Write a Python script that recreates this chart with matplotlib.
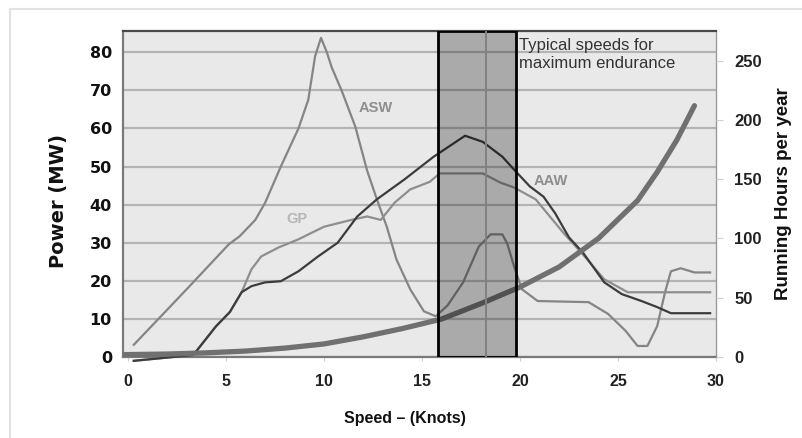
import numpy as np
import matplotlib
matplotlib.use("Agg")
import matplotlib.pyplot as plt
from matplotlib.patches import Rectangle

# speed (knots) vs power (MW) for the three mission profiles
asw_x = [0.3, 3.0, 5.15, 5.7, 6.5, 7.0, 7.8, 8.7, 9.2, 9.55, 9.85, 10.15, 10.4, 10.9, 11.6,
         12.2, 12.7, 13.2, 13.7, 14.4, 15.1, 15.7, 16.3, 17.1, 17.9, 18.5, 19.1, 19.35,
         19.7, 20.1, 20.9, 23.5, 24.5, 25.4, 26.0, 26.5, 27.0, 27.4, 27.7, 28.2, 28.9, 29.7]
asw_y = [3.2, 17.8, 29.6, 31.7, 36, 40.5, 50, 60, 67.5, 79, 83.8, 80, 76, 70, 60.5,
         49, 41.4, 34.3, 25.6, 17.8, 12, 10.7, 13.5, 19.6, 29, 32.2, 32.2, 29.8,
         23.8, 17.8, 14.7, 14.4, 11.3, 6.8, 2.9, 2.9, 8.1, 17, 22.5, 23.3, 22.2, 22.2]

gp_x = [0.3, 3.3, 3.5, 4.5, 5.2, 5.8, 6.3, 6.8, 7.7, 8.7, 10.0, 11.4, 12.2, 12.9, 13.6,
        14.4, 15.4, 15.9, 18.1, 19.0, 19.7, 20.8, 22.2, 23.3, 24.3, 25.5, 29.7]
gp_y = [-1, 0.5, 1.6, 8.1, 11.8, 17, 23, 26.4, 28.8, 30.9, 34.2, 36, 36.9, 36, 40.5,
        44, 46, 48.2, 48.2, 45.8, 44.5, 41.4, 32.7, 26.4, 20.4, 17, 17]

aaw_x = [0.3, 3.3, 3.5, 4.5, 5.2, 5.8, 6.3, 7.0, 7.8, 8.7, 9.7, 10.7, 11.7, 12.7, 14.1,
         15.6, 17.2, 18.1, 19.1, 19.7, 20.5, 21.2, 21.8, 22.5, 23.2, 24.3, 25.2, 26.2,
         27.0, 27.7, 29.7]
aaw_y = [-1, 0.5, 1.6, 8.1, 11.8, 17, 18.6, 19.6, 19.9, 22.5, 26.4, 30, 36.9, 41.4, 46.6,
         52.6, 58.1, 56.5, 52.6, 49.2, 44.8, 42.1, 37.7, 31.4, 27.5, 19.6, 16.5, 14.7,
         13.1, 11.5, 11.5]

# running hours per year (right axis)
hrs_x = [-0.2, 2, 4, 6, 8, 10, 12, 14, 16, 18, 20, 22, 24, 26, 27, 28, 28.9]
hrs_y = [2, 2.5, 3.5, 5, 7.5, 11, 17, 24, 32, 45, 59, 76, 100, 132, 156, 183, 212]

endurance_band = (15.8, 19.8)
endurance_mid = 18.25

fig = plt.figure(figsize=(8.02, 4.38), dpi=100)
fig.patches.append(Rectangle((10 / 802, -0.1), 1.2, 1 - 9 / 438 + 0.1, transform=fig.transFigure,
                             fill=False, edgecolor="#e2e2e2", linewidth=1.5))

ax = fig.add_axes([123 / 802, 1 - 357 / 438, (716 - 123) / 802, (357 - 31) / 438])
ax.set_facecolor("#e9e9e9")
ax.set_xlim(-0.25, 29.75)
ax.set_ylim(0.26, 85.6)

ax.yaxis.grid(True, color="#b4b4b4", linewidth=1.6)
ax.set_axisbelow(True)

ax.plot(asw_x, asw_y, color="#858585", lw=1.6, zorder=3)
ax.plot(gp_x, gp_y, color="#8e8e8e", lw=1.6, zorder=3, clip_on=False)
ax.plot(aaw_x, aaw_y, color="#3c3c3c", lw=1.6, zorder=4, clip_on=False)

ax.text(12.65, 65.5, "ASW", color="#8e8e8e", fontsize=10.5, fontweight="bold",
        family="Liberation Sans", ha="center", va="center")
ax.text(8.6, 36.2, "GP", color="#b5b5b5", fontsize=10.5, fontweight="bold",
        family="Liberation Sans", ha="center", va="center")
ax.text(21.55, 46.1, "AAW", color="#8e8e8e", fontsize=10.5, fontweight="bold",
        family="Liberation Sans", ha="center", va="center")

ax.set_xticks(np.arange(0, 31, 5))
ax.set_yticks(np.arange(0, 81, 10))
ax.tick_params(axis="y", length=0, pad=8, labelsize=11.5, labelcolor="#111111")
ax.tick_params(axis="x", length=3, color="#cfcfcf", pad=9, labelsize=11.5, labelcolor="#222222")
for lab in ax.get_yticklabels():
    lab.set_fontweight("bold")
    lab.set_family("DejaVu Sans")
for lab in ax.get_xticklabels():
    lab.set_fontweight("bold")
    lab.set_family("Liberation Sans")

for side, col, w in [("left", "#7a7a7a", 1.6), ("bottom", "#7a7a7a", 1.6),
                     ("top", "#4a4a4a", 1.6), ("right", "#9a9a9a", 1.0)]:
    ax.spines[side].set_color(col)
    ax.spines[side].set_linewidth(w)

ax.set_ylabel("Power (MW)", fontsize=14, fontweight="bold", family="DejaVu Sans", color="#111111")
ax.yaxis.set_label_coords(-0.093, 0.48)
ax.set_xlabel("Speed \u2013 (Knots)", fontsize=11.5, fontweight="bold",
              family="Liberation Sans", color="#111111")
ax.xaxis.set_label_coords(0.475, -0.165)

ax2 = ax.twinx()
ax2.set_ylim(0, 275)
ax2.plot(hrs_x, hrs_y, color="#707070", lw=3.8, solid_capstyle="round", zorder=3)
ax2.set_yticks(np.arange(0, 251, 50))
ax2.tick_params(axis="y", length=5, color="#d0d0d0", pad=8, labelsize=12, labelcolor="#222222")
for lab in ax2.get_yticklabels():
    lab.set_fontweight("bold")
    lab.set_family("Liberation Sans")
for s in ax2.spines.values():
    s.set_visible(False)
ax2.set_ylabel("Running Hours per year", fontsize=13.5, fontweight="bold",
               family="Liberation Sans", color="#111111")
ax2.yaxis.set_label_coords(1.099, 0.5)

# shaded endurance band drawn over the curves
ax2.axvspan(*endurance_band, facecolor="black", alpha=0.27, edgecolor="none", zorder=6)
ax2.add_patch(Rectangle((endurance_band[0], 0), endurance_band[1] - endurance_band[0], 275,
                        fill=False, edgecolor="black", linewidth=2, zorder=7))
ax2.axvline(endurance_mid, color="#808080", lw=1.4, zorder=7)
ax2.text(19.95, 269, "Typical speeds for\nmaximum endurance", fontsize=12, color="#333333",
         family="Liberation Sans", ha="left", va="top", linespacing=1.2, zorder=8)

fig.savefig("out.png", dpi=100)
